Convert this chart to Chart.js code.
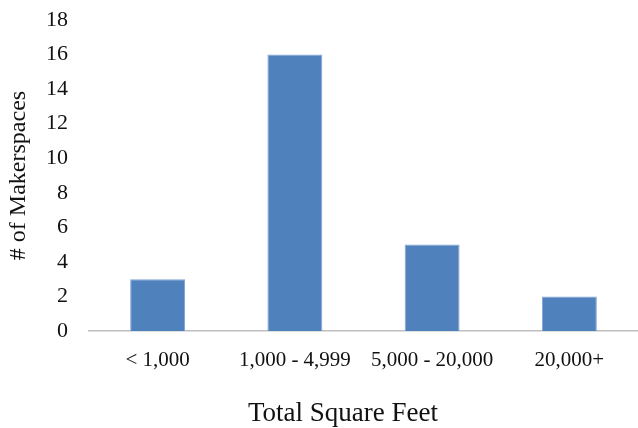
<!DOCTYPE html>
<html>
<head>
<meta charset="utf-8">
<script src="https://cdn.jsdelivr.net/npm/chart.js@4/dist/chart.umd.min.js"></script>
<style>
  html, body { margin: 0; padding: 0; background: #fff; }
  #wrap { width: 638px; height: 428px; }
</style>
</head>
<body>
<div id="wrap"><canvas id="c" width="638" height="428"></canvas></div>
<script>
const categories = ['< 1,000', '1,000 - 4,999', '5,000 - 20,000', '20,000+'];
const makerspaceCounts = [3, 16, 5, 2];
const yTicks = [0, 2, 4, 6, 8, 10, 12, 14, 16, 18];
const xTitle = 'Total Square Feet';
const yTitle = '# of Makerspaces';

const serif = '"Liberation Serif", "Times New Roman", serif';

// Axis title under the category labels, centred like the source layout
const xTitlePlugin = {
  id: 'xTitle',
  afterDraw(chart) {
    const ctx = chart.ctx;
    ctx.save();
    ctx.font = '27px ' + serif;
    ctx.fillStyle = '#111';
    ctx.textAlign = 'center';
    ctx.textBaseline = 'middle';
    ctx.fillText(xTitle, 343, 414);
    ctx.restore();
  }
};

new Chart(document.getElementById('c'), {
  type: 'bar',
  data: {
    labels: categories,
    datasets: [{
      data: makerspaceCounts,
      backgroundColor: '#4F81BD',
      borderColor: '#7FA3D1',
      borderWidth: 1,
      barPercentage: 0.4,
      categoryPercentage: 1.0
    }]
  },
  options: {
    responsive: false,
    animation: false,
    devicePixelRatio: 1,
    layout: { padding: { top: 20, right: 0, left: 0, bottom: 0 } },
    plugins: { legend: { display: false }, tooltip: { enabled: false } },
    scales: {
      x: {
        grid: { display: false },
        border: { display: true, color: '#BFBFBF', width: 1.5 },
        ticks: { color: '#111', font: { family: serif, size: 21 }, padding: 9, maxRotation: 0 },
        afterFit: s => { s.height = 97; }
      },
      y: {
        min: 0, max: 18,
        afterBuildTicks: s => { s.ticks = yTicks.map(v => ({ value: v })); },
        grid: { display: false },
        border: { display: false },
        ticks: { color: '#111', font: { family: serif, size: 22 }, padding: 13 },
        title: { display: true, text: yTitle, color: '#111', font: { family: serif, size: 24 }, padding: { top: 4, bottom: 0 } },
        afterFit: s => { s.width = 89; s.paddingTop = 0; s.paddingBottom = 0; }
      }
    }
  },
  plugins: [xTitlePlugin]
});
</script>
</body>
</html>
